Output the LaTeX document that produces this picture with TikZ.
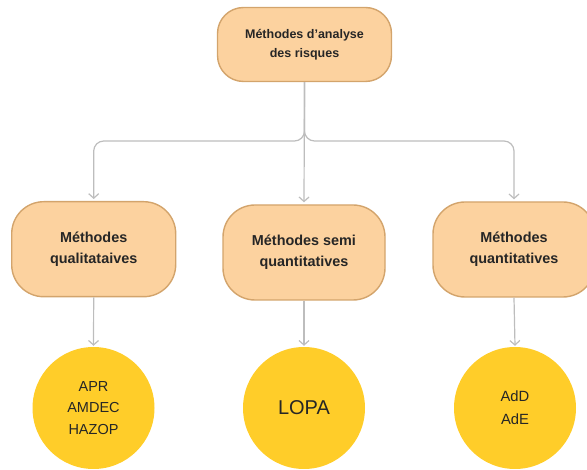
\documentclass[tikz,border=0pt]{standalone}
\usepackage{fontspec}
\setmainfont{Liberation Sans}
\usetikzlibrary{arrows.meta}
\definecolor{boxfill}{HTML}{FCD29F}
\definecolor{boxline}{HTML}{D3A46C}
\definecolor{discfill}{HTML}{FFCD29}
\definecolor{wire}{HTML}{BDBDBD}
\definecolor{ink}{HTML}{262626}
\begin{document}
\begin{tikzpicture}[x=1pt,y=-1pt,
  methodbox/.style={draw=boxline, line width=1.4pt, fill=boxfill, rounded corners=32pt,
    align=center, text=ink, inner sep=0pt,
    font=\bfseries\fontsize{14.4}{21.3}\selectfont},
  disc/.style={circle, fill=discfill, minimum size=122pt, inner sep=0pt, align=center,
    text=ink, font=\fontsize{14.5}{21.5}\selectfont},
  link/.style={draw=wire, line width=1.2pt, rounded corners=10pt,
    -{Straight Barb[length=4.5pt,width=10pt]}}]
\useasboundingbox (0,0) rectangle (587,470);

% root of the classification
\node[methodbox, minimum width=174pt, minimum height=74pt, rounded corners=26pt,
      font=\bfseries\fontsize{12.5}{19}\selectfont] (root) at (304.5,44.5)
      {Méthodes d’analyse\\des risques};

% the three families of methods
\node[methodbox, minimum width=164pt, minimum height=95pt] (qual) at (93.7,249.2)
      {Méthodes\\qualitataives};
\node[methodbox, minimum width=162pt, minimum height=95pt] (semi) at (304,252.5)
      {Méthodes semi\\quantitatives};
\node[methodbox, minimum width=162pt, minimum height=95pt] (quant) at (514,249.5)
      {Méthodes\\quantitatives};

% example methods of each family
\node[disc] (c1) at (93.5,408) {APR\\AMDEC\\HAZOP};
\node[disc, font=\fontsize{20}{24}\selectfont] (c2) at (304,408) {LOPA};
\node[disc, font=\fontsize{14.8}{23}\selectfont] (c3) at (515,408) {AdD\\AdE};

% branching connectors
\coordinate (rail) at (0,141);
\draw[link] (root.south) -- (root.south |- rail) -- (qual.north |- rail)
            -- ([yshift=2pt]qual.north);
\draw[link] (root.south) -- ([yshift=2pt]semi.north);
\draw[link] (root.south) -- (root.south |- rail) -- (quant.north |- rail)
            -- ([yshift=2pt]quant.north);

\draw[link] (qual.south) -- ([yshift=1pt]c1.north);
\draw[link] (semi.south) -- ([yshift=1pt]c2.north);
\draw[link] (quant.south) -- ([yshift=1pt]c3.north);
\end{tikzpicture}
\end{document}
